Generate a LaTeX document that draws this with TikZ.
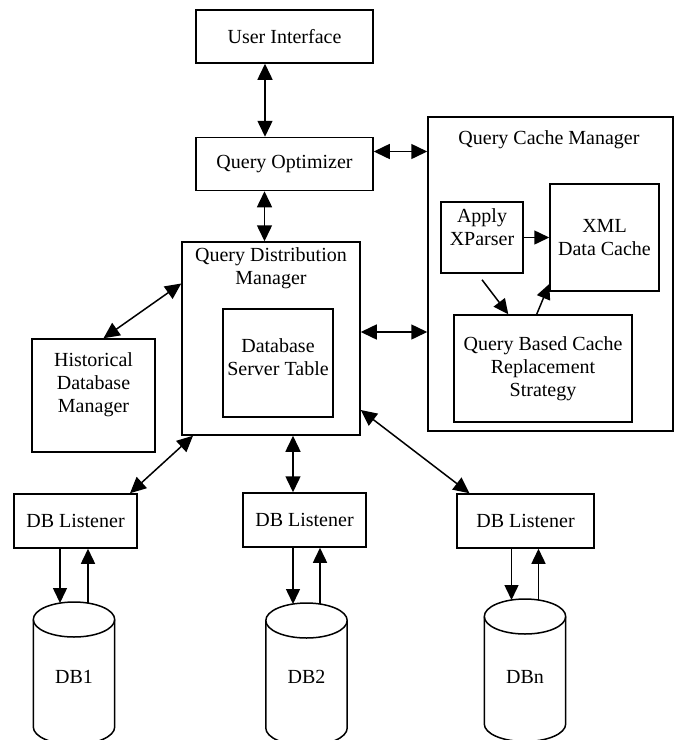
\documentclass[tikz,border=0pt]{standalone}
\usepackage{fontspec}
\setmainfont{Liberation Serif}
\usetikzlibrary{positioning, arrows.meta}

\begin{document}
\begin{tikzpicture}[x=1pt, y=-1pt, node distance=10pt,
    every node/.style={font=\fontsize{20}{23}\selectfont, align=center, inner sep=0pt},
    box/.style={draw, line width=1.5pt},
    link/.style={line width=1.5pt, {Triangle[length=16pt,width=15pt]}-{Triangle[length=16pt,width=15pt]}},
    oneway/.style={line width=1.5pt, -{Triangle[length=15pt,width=14pt]}}]
    \useasboundingbox (0,0) rectangle (677,740);
    \clip (0,0) rectangle (677,740);

    % front end
    \node[box, minimum width=177pt, minimum height=53pt] (ui) at (284.5,36.5) {User Interface};
    \node[box, minimum width=177pt, minimum height=53pt, below=73pt of ui] (qo) {Query Optimizer};

    % distribution side
    \node[box, minimum width=178pt, minimum height=193pt] (qdm)      at (271,338.5) {};
    \node                                                 (qdmtitle) at (271,268)   {Query Distribution\\Manager};
    \node[box, minimum width=110pt, minimum height=108pt] (dst)      at (278,363)   {};
    \node                                                 (dsttext)  at (278,357)   {Database\\Server Table};
    \node[box, minimum width=123pt, minimum height=113pt] (hdm)      at (93.5,395.5) {};
    \node                                                 (hdmtext)  at (93.5,385)  {Historical\\Database\\Manager};

    % cache side
    \node[box, minimum width=245pt, minimum height=314pt] (qcm)      at (550.5,274) {};
    \node                                                 (qcmtitle) at (549,140)   {Query Cache Manager};
    \node[box, minimum width=82pt, minimum height=71pt]   (ax)       at (482,237.5) {};
    \node                                                 (axtext)   at (482,227)   {Apply\\XParser};
    \node[box, minimum width=109pt, minimum height=107pt] (xdc)      at (604.5,237.5) {XML\\Data Cache};
    \node[box, minimum width=178pt, minimum height=107pt] (qbcrs)    at (543,368.5) {Query Based Cache\\Replacement\\Strategy};

    % listeners
    \node[box, minimum width=123pt, minimum height=54pt] (dbl1) at (75.5,521)  {DB Listener};
    \node[box, minimum width=123pt, minimum height=54pt] (dbl2) at (304.5,520) {DB Listener};
    \node[box, minimum width=137pt, minimum height=54pt] (dbl3) at (525.5,521) {DB Listener};

    % databases
    \foreach \cx/\ty/\lbl/\nm in {74/602/DB1/db1, 306.5/603/DB2/db2, 525/599/DBn/dbn} {
        \draw[line width=1.5pt] (\cx,\ty+17.5) ellipse [x radius=40.7, y radius=17.5];
        \draw[line width=1.5pt] (\cx-40.7,\ty+17.5) -- (\cx-40.7,\ty+125)
            arc[start angle=180, end angle=0, x radius=40.7, y radius=17.5] -- (\cx+40.7,\ty+17.5);
        \node (\nm) at (\cx,677) {\lbl};
        \coordinate (\nm top) at (\cx,\ty+1);
    }

    \coordinate (qoright)  at ([yshift=12.5pt]qo.east);
    \coordinate (qdmright) at ([yshift=6.5pt]qdm.east);

    % connectors
    \draw[link] ([xshift=-19.5pt]ui.south) -- ([xshift=-19.5pt]qo.north);
    \draw[link] ([xshift=-20pt]qo.south)   -- ([xshift=-6.5pt]qdm.north);
    \draw[link] (qoright)  -- (qoright -| qcm.west);
    \draw[link] (qdmright) -- (qdmright -| qcm.west);
    \draw[link] ([xshift=10pt]hdm.north)   -- ([yshift=55pt]qdm.west);
    \draw[link] ([xshift=54.5pt]dbl1.north) -- ([xshift=-78pt]qdm.south);
    \draw[link] ([xshift=22pt]qdm.south)   -- ([xshift=-11.5pt]dbl2.north);
    \draw[link] ([yshift=-71.5pt]qdm.east) -- ([xshift=-56pt]dbl3.north);

    \draw[oneway] (ax) -- (xdc);
    \draw[oneway] ([yshift=-6pt]ax.south)   -- ([xshift=-34.7pt]qbcrs.north);
    \draw[oneway] ([xshift=-6.3pt]qbcrs.north) -- ([yshift=-46.5pt]xdc.west);

    \draw[oneway] ([xshift=-15.5pt]dbl1.south) -- ([xshift=-14pt]db1top);
    \draw[oneway] ([xshift=14pt]db1top)       -- ([xshift=12.5pt]dbl1.south);
    \draw[oneway] ([xshift=-11.5pt]dbl2.south) -- ([xshift=-13.5pt]db2top);
    \draw[oneway] ([xshift=13.5pt]db2top)     -- ([xshift=15.5pt]dbl2.south);
    \draw[oneway] ([xshift=-14pt]dbl3.south)  -- ([xshift=-13.5pt]dbntop);
    \draw[oneway] ([xshift=13.5pt]dbntop)     -- ([xshift=13pt]dbl3.south);
\end{tikzpicture}
\end{document}
